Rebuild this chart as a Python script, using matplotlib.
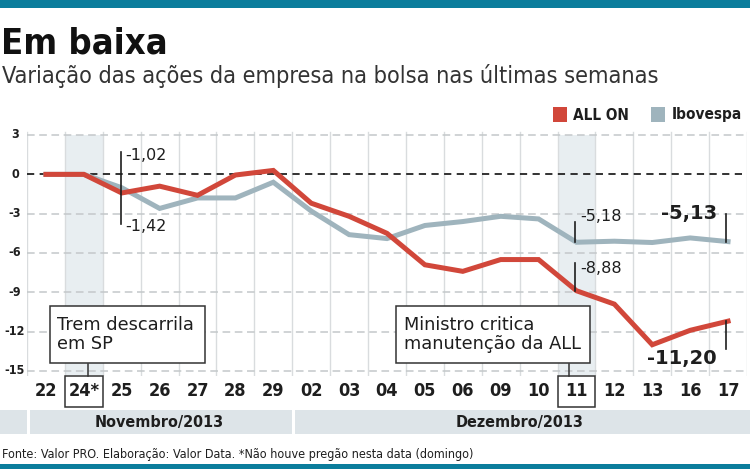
import matplotlib

matplotlib.use("Agg")
import matplotlib.pyplot as plt
import matplotlib.transforms as mtransforms
from matplotlib.patches import Rectangle

# ---- data -----------------------------------------------------------------
days = ["22", "24*", "25", "26", "27", "28", "29", "02", "03", "04",
        "05", "06", "09", "10", "11", "12", "13", "16", "17"]
all_on = [0.0, 0.0, -1.42, -0.9, -1.6, -0.05, 0.3, -2.2, -3.2, -4.5,
          -6.9, -7.4, -6.5, -6.5, -8.88, -9.9, -13.0, -11.9, -11.20]
ibovespa = [0.0, 0.0, -1.02, -2.6, -1.8, -1.8, -0.6, -2.8, -4.6, -4.9,
            -3.9, -3.6, -3.2, -3.4, -5.18, -5.1, -5.2, -4.85, -5.13]
months = ["Novembro/2013", "Dezembro/2013"]
month_spans = [(0, 6), (7, 18)]
y_ticks = [3, 0, -3, -6, -9, -12, -15]
highlight_days = [1, 14]

RED = "#d1473a"
GREY = "#9fb4bd"
TEAL = "#0b7d9c"
BAND = "#dde4e8"
SHADE = "#e8eef1"
INK = "#1e1e1e"

W, H = 750, 469
COND = dict(family="DejaVu Sans", stretch="condensed")


def fy(y_px):
    return 1 - y_px / H


def fx(x_px):
    return x_px / W


fig = plt.figure(figsize=(W / 100, H / 100), dpi=100)
fig.patch.set_facecolor("white")

# axes placed in pixel terms: y=3 -> 135px, y=-15 -> 371px
ax = fig.add_axes([fx(27), fy(376.2), fx(747) - fx(27), (376.2 - 129.8) / H])
ax.set_xlim(-0.5, len(days) - 0.5)
ax.set_ylim(-15.4, 3.4)
ax.axis("off")

x = list(range(len(days)))

# shaded columns
for i in highlight_days:
    ax.add_patch(Rectangle((i - 0.5, -15.3), 1, 18.3, facecolor=SHADE,
                           edgecolor="none", zorder=0))

# vertical grid at category boundaries
for b in range(len(days) + 1):
    ax.plot([b - 0.5, b - 0.5], [-15.3, 3.2], color="#d9dcde", lw=1, zorder=1)

# horizontal dashed grid
for t in y_ticks:
    if t == 0:
        ax.plot([-0.5, len(days) - 0.5], [0, 0], color="#222222", lw=1.3,
                ls=(0, (4, 3)), zorder=2)
    else:
        ax.plot([-0.5, len(days) - 0.5], [t, t], color="#c4c8ca", lw=1.1,
                ls=(0, (5, 3)), zorder=1)

ax.plot(x, ibovespa, color=GREY, lw=3.6, solid_joinstyle="miter", zorder=3)
ax.plot(x, all_on, color=RED, lw=3.6, solid_joinstyle="miter", zorder=4)

# y tick labels
for t in y_ticks:
    fig.text(fx(15), fy(174.3 - t * 13.11), f"{t}", ha="center", va="center",
             fontsize=9, fontweight="bold", color=INK, **COND)

# value callouts
ax.plot([2 - 0.03, 2 - 0.03], [1.69, -3.75], color=INK, lw=1.2, zorder=6)
ax.text(2.08, 1.45, "-1,02", fontsize=11.5, ha="left", va="center", color=INK)
ax.text(2.08, -3.98, "-1,42", fontsize=11.5, ha="left", va="center", color=INK)

ax.plot([14 - 0.05] * 2, [-3.6, -5.18], color=INK, lw=1.2, zorder=6)
ax.text(14.1, -3.25, "-5,18", fontsize=11.5, ha="left", va="center", color=INK)
ax.plot([14 - 0.05] * 2, [-6.8, -8.88], color=INK, lw=1.2, zorder=6)
ax.text(14.1, -7.2, "-8,88", fontsize=11.5, ha="left", va="center", color=INK)

ax.plot([17.95] * 2, [-3.0, -5.13], color=INK, lw=1.2, zorder=6)
ax.text(17.7, -2.98, "-5,13", fontsize=14, fontweight="bold", ha="right",
        va="center", color=INK)
ax.plot([17.95] * 2, [-11.2, -13.35], color=INK, lw=1.2, zorder=6)
ax.text(17.7, -14.05, "-11,20", fontsize=14, fontweight="bold", ha="right",
        va="center", color=INK)

# event boxes
events = [
    ("Trem descarrila\nem SP", 0.1, 4.2, 1.1),
    ("Ministro critica\nmanutenção da ALL", 9.25, 14.35, 13.8),
]
for label, x0, x1, xc in events:
    ax.add_patch(Rectangle((x0, -14.4), x1 - x0, 4.35, facecolor="white",
                           edgecolor="#333333", lw=1.1, zorder=7))
    ax.text(x0 + 0.2, -12.2, label, fontsize=12.8, ha="left", va="center",
            color=INK, linespacing=1.08, zorder=8)

# x labels, boxes and connectors (x in data, y in figure)
tr = mtransforms.blended_transform_factory(ax.transData, fig.transFigure)
for i, d in enumerate(days):
    fig.text(i, fy(391), d, transform=tr, ha="center", va="center",
             fontsize=13, fontweight="bold", color=INK, **COND)
for i, (label, x0, x1, xc) in zip(highlight_days, events):
    fig.patches.append(Rectangle((i - 0.5, fy(407)), 1, (407 - 376) / H,
                                 transform=tr, facecolor="none",
                                 edgecolor="#333333", lw=1.1))
    fig.lines.append(plt.Line2D([xc, xc], [fy(364), fy(376)], transform=tr,
                                color="#333333", lw=1.1))

# month band
fig.patches.append(Rectangle((0, fy(434)), fx(27), (434 - 410) / H,
                             transform=fig.transFigure, facecolor=BAND,
                             edgecolor="none"))
for name, (a, b) in zip(months, month_spans):
    left = a - 0.5 + 0.08
    right = b + 0.5 if b < len(days) - 1 else len(days) + 0.2
    fig.patches.append(Rectangle((left, fy(434)), right - left, (434 - 410) / H,
                                 transform=tr, facecolor=BAND, edgecolor="none"))
    fig.text((a + b) / 2, fy(422), name, transform=tr, ha="center", va="center",
             fontsize=11.5, fontweight="bold", color=INK, **COND)

# header / footer
fig.patches.append(Rectangle((0, fy(8)), 1, 8 / H, transform=fig.transFigure,
                             facecolor=TEAL, edgecolor="none"))
fig.patches.append(Rectangle((0, 0), 1, 5 / H, transform=fig.transFigure,
                             facecolor=TEAL, edgecolor="none"))
fig.text(fx(1), fy(44), "Em baixa", ha="left", va="center", fontsize=26,
         fontweight="bold", color="#111111", **COND)
fig.text(fx(2), fy(76), "Variação das ações da empresa na bolsa nas últimas semanas",
         ha="left", va="center", fontsize=16.8, color="#333333", **COND)

fig.patches.append(Rectangle((fx(553), fy(122)), fx(14), 15 / H,
                             transform=fig.transFigure, facecolor=RED,
                             edgecolor="none"))
fig.text(fx(573), fy(115), "ALL ON", ha="left", va="center", fontsize=11,
         fontweight="bold", color=INK, **COND)
fig.patches.append(Rectangle((fx(651), fy(122)), fx(14), 15 / H,
                             transform=fig.transFigure, facecolor=GREY,
                             edgecolor="none"))
fig.text(fx(672), fy(115), "Ibovespa", ha="left", va="center", fontsize=11,
         fontweight="bold", color=INK, **COND)

fig.text(fx(2), fy(454),
         "Fonte: Valor PRO. Elaboração: Valor Data. *Não houve pregão nesta data (domingo)",
         ha="left", va="center", fontsize=9, color=INK, **COND)

fig.savefig("out.png", dpi=100, facecolor="white")
